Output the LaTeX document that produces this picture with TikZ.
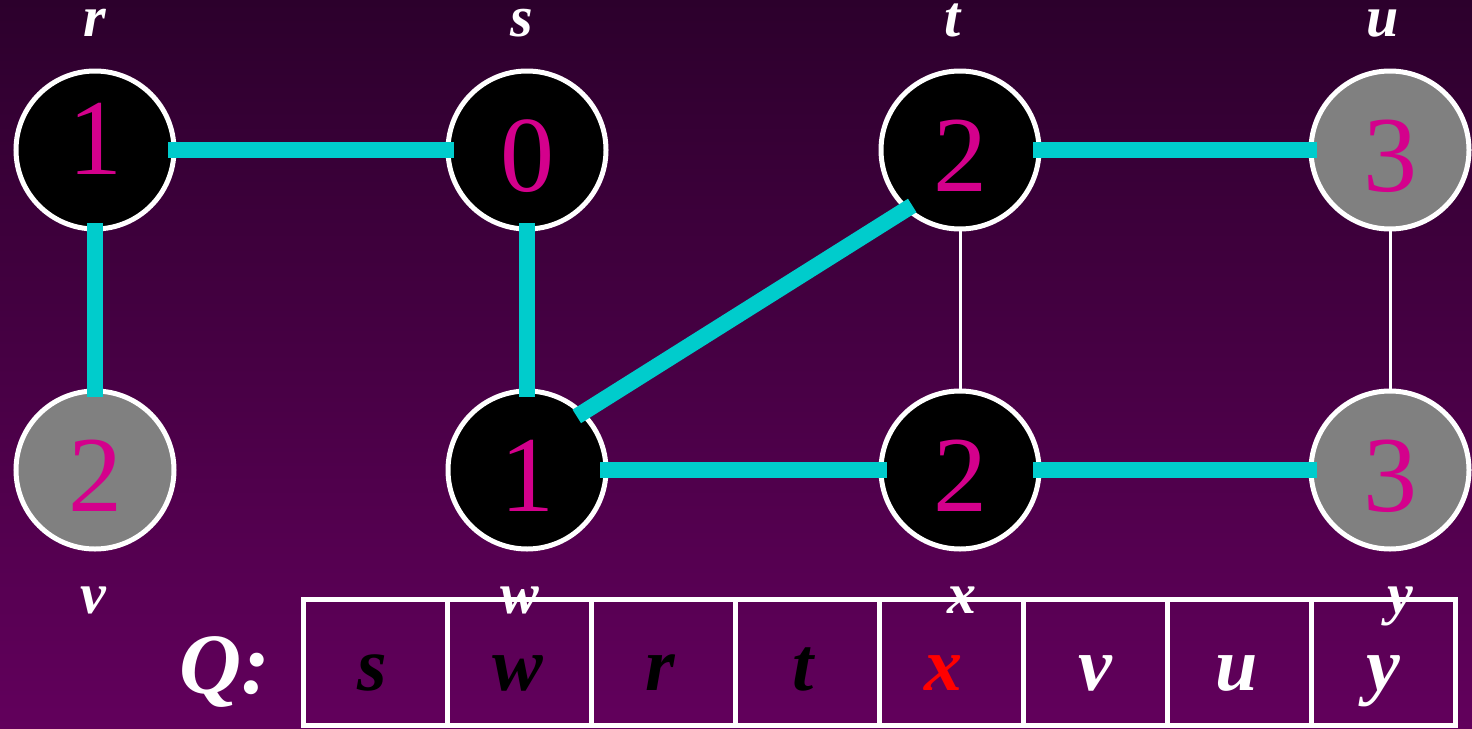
\documentclass[tikz,border=0pt]{standalone}
\usepackage{fontspec}
\setmainfont{Liberation Serif}
\definecolor{bgtop}{RGB}{44,0,44}
\definecolor{bgbot}{RGB}{98,0,92}
\definecolor{treecyan}{RGB}{0,204,204}
\definecolor{mag}{RGB}{212,0,140}
\definecolor{gfill}{RGB}{128,128,128}
\tikzset{
  vert/.style={circle, draw=white, line width=5pt, minimum size=158pt, inner sep=0pt, outer sep=0pt,
    text=mag, font=\fontsize{108}{108}\selectfont, text height=82pt, text depth=0pt},
  raised/.style={text height=73pt, text depth=24pt},
  blk/.style={vert, fill=black},
  gry/.style={vert, fill=gfill},
  tree/.style={draw=treecyan, line width=16pt, shorten <=-6pt, shorten >=-6pt},
  plainedge/.style={draw=white, line width=3pt},
  lab/.style={text=white, font=\bfseries\itshape\fontsize{58}{58}\selectfont, anchor=base, inner sep=0pt},
  cell/.style={draw=white, line width=5pt, minimum width=144pt, minimum height=126pt, inner sep=0pt, outer sep=0pt},
  qlet/.style={font=\bfseries\itshape\fontsize{76}{76}\selectfont, anchor=base, inner sep=0pt},
}
\begin{document}
\begin{tikzpicture}[x=1pt,y=-1pt]
\shade[top color=bgtop, bottom color=bgbot] (0,0) rectangle (1472,728);
\useasboundingbox (0,0) rectangle (1472,728);

% vertices
\node[blk, raised] (r) at (95,150) {1};
\node[blk] (s) at (527,150) {0};
\node[blk] (t) at (960,150) {2};
\node[gry] (u) at (1390,150) {3};
\node[gry] (v) at (95,470) {2};
\node[blk] (w) at (527,470) {1};
\node[blk] (x) at (960,470) {2};
\node[gry] (y) at (1390,470) {3};

% non-tree edges
\draw[plainedge] (t) -- (x);
\draw[plainedge] (u) -- (y);

% tree edges
\draw[tree] (r) -- (s);
\draw[tree] (r) -- (v);
\draw[tree] (s) -- (w);
\draw[tree] (w.46) -- (t.228);
\draw[tree] (w) -- (x);
\draw[tree] (t) -- (u);
\draw[tree] (x) -- (y);

% vertex labels
\node[lab] (lr) at (95,36) {r};
\node[lab] (ls) at (522,36) {s};
\node[lab] (lt) at (953,36) {t};
\node[lab] (lu) at (1383,36) {u};

% queue
\node[cell] (q1) at (375,662) {};
\node[cell] (q2) at (519,662) {};
\node[cell] (q3) at (663,662) {};
\node[cell] (q4) at (807,662) {};
\node[cell] (q5) at (951,662) {};
\node[cell] (q6) at (1095,662) {};
\node[cell] (q7) at (1239,662) {};
\node[cell] (q8) at (1383,662) {};

\node[lab] (lv) at (93,613) {v};
\node[lab] (lw) at (520,613) {w};
\node[lab] (lx) at (962,613) {x};
\node[lab] (ly) at (1400,613) {y};

\node[qlet, text=black] (a1) at (372,690) {s};
\node[qlet, text=black] (a2) at (518,690) {w};
\node[qlet, text=black] (a3) at (660,690) {r};
\node[qlet, text=black] (a4) at (803,690) {t};
\node[qlet, text=red] (a5) at (943,690) {x};
\node[qlet, text=white] (a6) at (1095,690) {v};
\node[qlet, text=white] (a7) at (1237,690) {u};
\node[qlet, text=white] (a8) at (1383,690) {y};

\node[font=\bfseries\itshape\fontsize{86}{86}\selectfont, text=white, anchor=base east, inner sep=0pt] (Q) at (270,693) {Q:};
\end{tikzpicture}
\end{document}
